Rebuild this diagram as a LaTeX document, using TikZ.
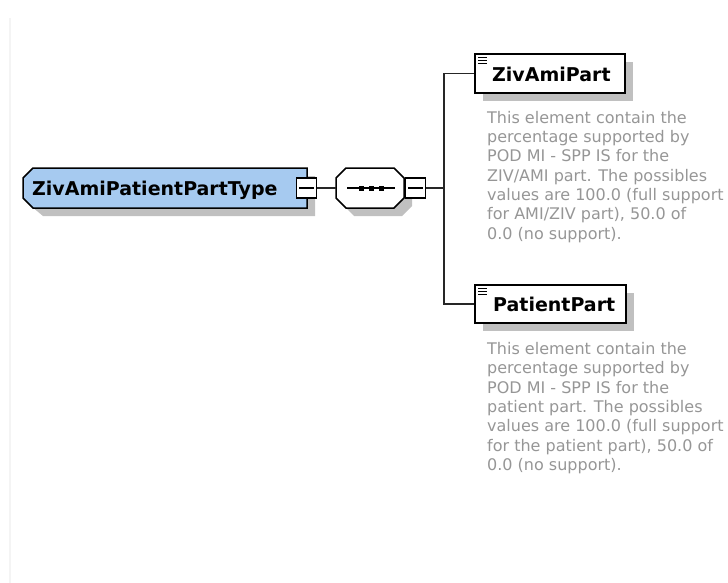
\documentclass[tikz,border=0pt]{standalone}
\usepackage{fontspec}
\setmainfont{DejaVu Sans}
\usetikzlibrary{calc,shadows}
\definecolor{typeblue}{RGB}{166,202,240}
\definecolor{shadowgray}{RGB}{192,192,192}
\definecolor{descgray}{RGB}{150,150,150}
\definecolor{edgegray}{RGB}{244,244,244}
\begin{document}
\begin{tikzpicture}[x=1pt,y=-1pt,line join=miter,
  outline/.style={draw=black,line width=1.5pt},
  shade/.style={fill=shadowgray},
  conn/.style={draw=black!85,line width=1.5pt},
  elbox/.style={draw=black,line width=1.5pt,fill=white,inner sep=0,
    drop shadow={shadow xshift=8pt,shadow yshift=-8pt,fill=shadowgray,opacity=1}},
  minusbox/.style={draw=black,line width=1.3pt,fill=white,inner sep=0,minimum width=20pt,minimum height=20pt},
  ghost/.style={inner sep=0},
  titletext/.style={font=\bfseries\fontsize{19}{22}\selectfont,inner sep=0,anchor=base west},
  desctext/.style={font=\fontsize{16}{19.3}\selectfont,text=descgray,align=left,inner sep=0,anchor=north west}
]
\useasboundingbox (0,0) rectangle (728,583);

% faint panel edge
\draw[edgegray,line width=1.2pt] (10,18) -- (10,583);

% ---- main complex type node ----
\fill[shade] (41,176) -- (315,176) -- (315,216) -- (43,216) -- (31,206) -- (31,186) -- cycle;
\path[outline,fill=typeblue] (33,168) -- (307,168) -- (307,208) -- (33,208) -- (23,198) -- (23,178) -- cycle;
\node[ghost,minimum width=284pt,minimum height=40pt] (main) at (165,188) {};
\node[titletext] (maintext) at (32,195.5) {ZivAmiPatientPartType};
\node[minusbox] (mainminus) at (306.5,188) {};
\draw[line width=1.2pt] ($(mainminus.west)+(3,0)$) -- ($(mainminus.east)+(-3,0)$);

% ---- sequence compositor ----
\fill[shade] (354,176) -- (402,176) -- (412,186) -- (412,206) -- (402,216) -- (354,216) -- (344,206) -- (344,186) -- cycle;
\path[outline,fill=white] (346,168) -- (394,168) -- (404,178) -- (404,198) -- (394,208) -- (346,208) -- (336,198) -- (336,178) -- cycle;
\node[ghost,minimum width=68pt,minimum height=40pt] (seq) at (370,188) {};
\draw[line width=1.2pt] (347,188) -- (395,188);
\foreach \dx in {361,371,381} \fill (\dx-2.5,185.5) rectangle (\dx+2.5,190.5);
\node[minusbox] (seqminus) at (415.5,188) {};
\draw[line width=1.2pt] ($(seqminus.west)+(3,0)$) -- ($(seqminus.east)+(-3,0)$);

% ---- child elements ----
\node[elbox,minimum width=150pt,minimum height=39pt] (ziv) at (550,73.5) {};
\node[titletext] (zivtext) at (492,81.5) {ZivAmiPart};
\foreach \yy in {57.5,60.5,63.5} \draw[line width=1pt] (478,\yy) -- (487,\yy);
\node[desctext] (zivdesc) at (487,111) {This element contain the\\percentage supported by\\POD MI - SPP IS for the\\ZIV/AMI part. The possibles\\values are 100.0 (full support\\for AMI/ZIV part), 50.0 of\\0.0 (no support).};

\node[elbox,minimum width=151pt,minimum height=38pt] (pat) at (550.5,304) {};
\node[titletext] (pattext) at (493,311.5) {PatientPart};
\foreach \yy in {288.5,291.5,294.5} \draw[line width=1pt] (478,\yy) -- (487,\yy);
\node[desctext] (patdesc) at (487,342.3) {This element contain the\\percentage supported by\\POD MI - SPP IS for the\\patient part. The possibles\\values are 100.0 (full support\\for the patient part), 50.0 of\\0.0 (no support).};

% ---- connectors ----
\coordinate (fork) at (444,188);
\draw[conn] (mainminus.east) -- (seq.west);
\draw[conn] (seqminus.east) -- (fork);
\draw[conn] (fork) |- (ziv.west);
\draw[conn] (fork) |- (pat.west);
\end{tikzpicture}
\end{document}
